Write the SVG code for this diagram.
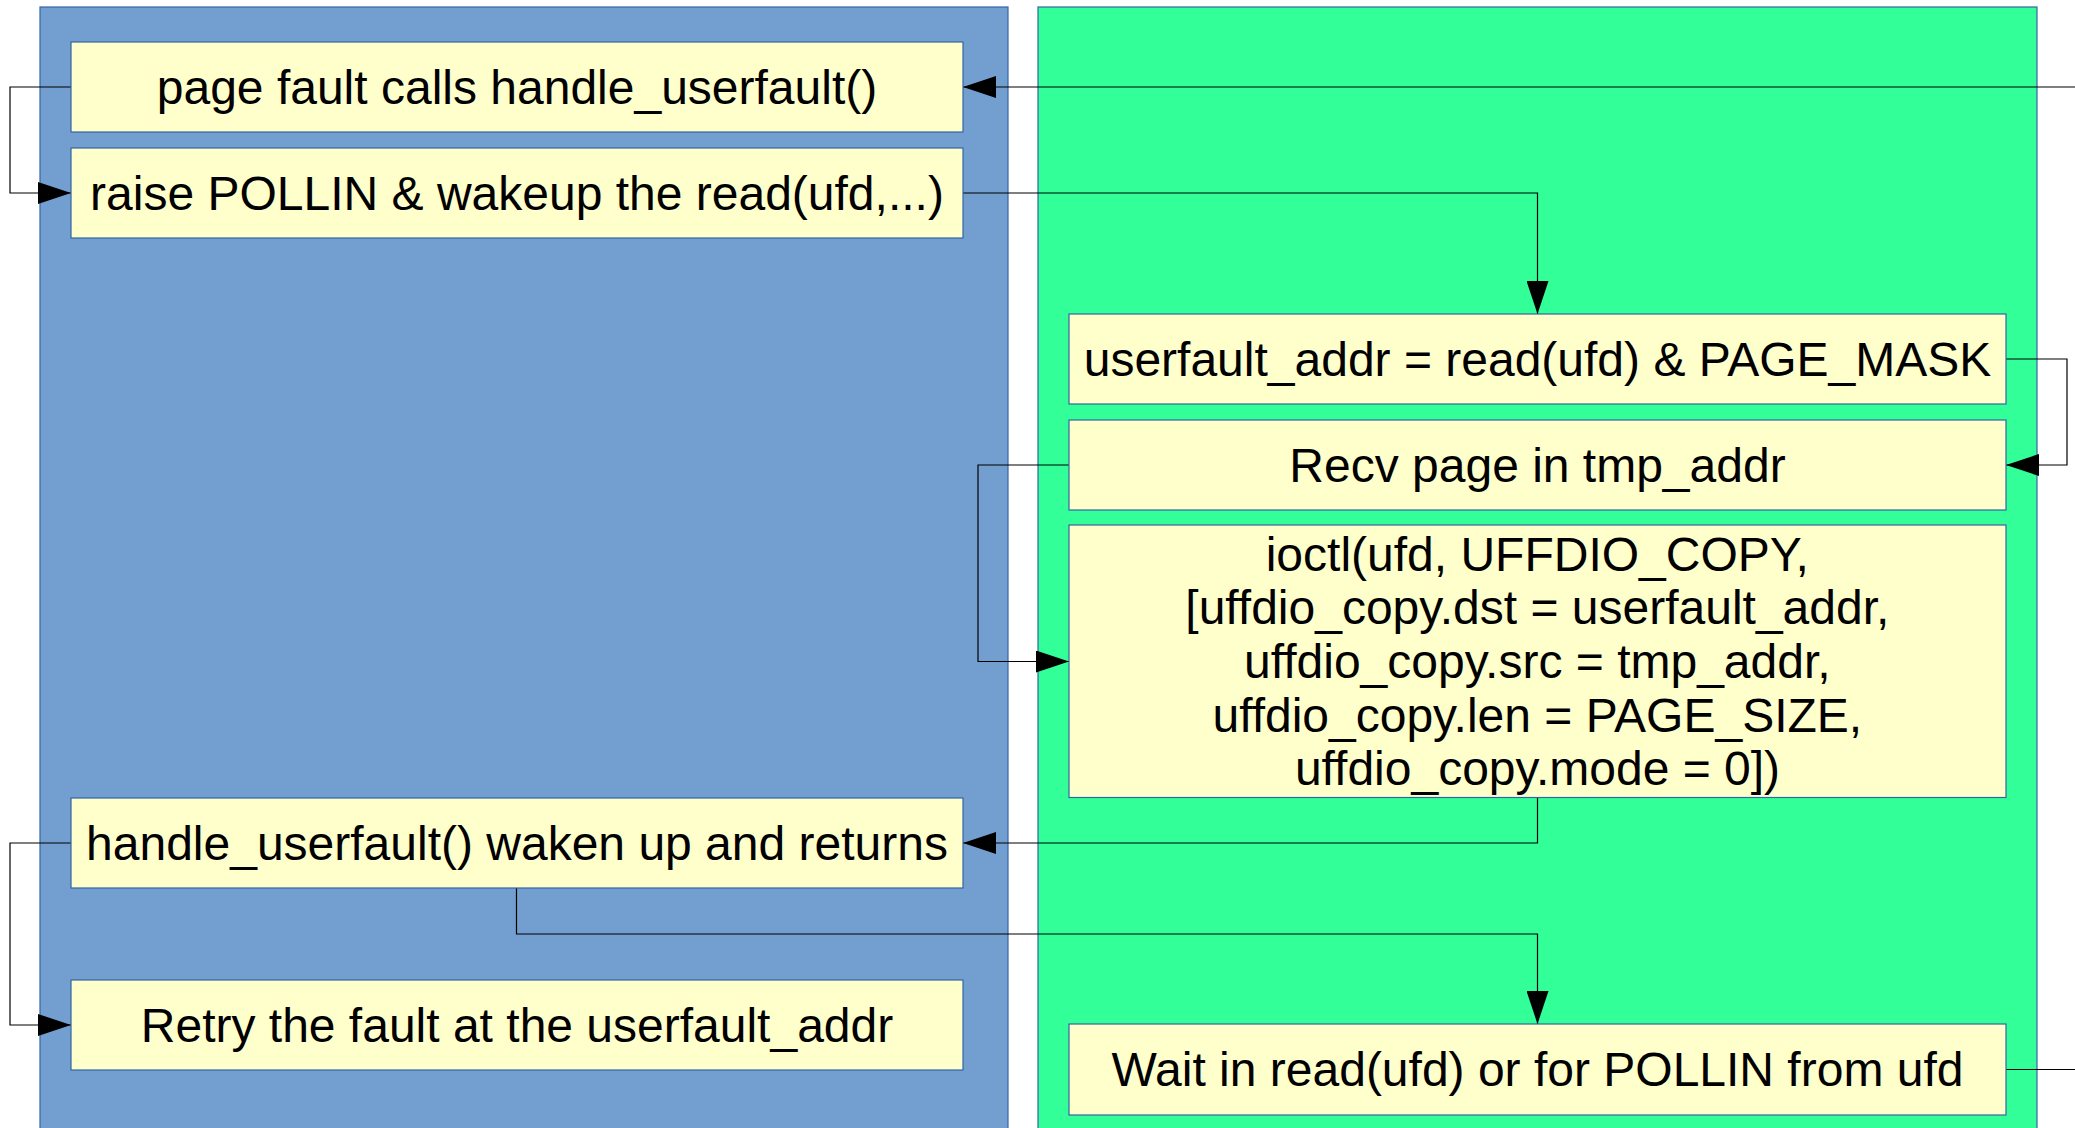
<svg xmlns="http://www.w3.org/2000/svg" width="2075" height="1128" viewBox="0 0 2075 1128">
  <defs>
    <style>
      .lane { stroke: #3465a4; stroke-width: 1.2; }
      .box { fill: #ffffcc; stroke: #3465a4; stroke-width: 1.2; }
      .lbl { font-family: "Liberation Sans", Arial, sans-serif; font-size: 48px; fill: #000; text-anchor: middle; }
      .wire { fill: none; stroke: #000; stroke-width: 1.2; }
      .wire.arrow { marker-end: url(#head); }
    </style>
    <marker id="head" markerUnits="userSpaceOnUse" markerWidth="33" markerHeight="22" refX="33" refY="11" orient="auto">
      <path d="M0,0 L33,11 L0,22 Z" fill="#000"/>
    </marker>
  </defs>

  <rect width="2075" height="1128" fill="#ffffff"/>

  <!-- swimlanes: kernel (left) and userland handler (right) -->
  <g id="lane-kernel">
    <rect class="lane" x="40" y="7" width="968" height="1135" fill="#729fcf"/>
  </g>
  <g id="lane-user">
    <rect class="lane" x="1038" y="7" width="999" height="1135" fill="#33ff99"/>
  </g>

  <!-- connectors -->
  <g id="connectors">
    <path class="wire arrow" d="M71,87 H10 V193 H71"/>
    <path class="wire arrow" d="M2076,87 H963"/>
    <path class="wire arrow" d="M963,193 H1537.5 V314"/>
    <path class="wire arrow" d="M2006,359 H2067 V465 H2006"/>
    <path class="wire arrow" d="M1069,465 H978 V661.5 H1069"/>
    <path class="wire arrow" d="M1537.5,797.5 V843 H963"/>
    <path class="wire arrow" d="M71,843 H10 V1025 H71"/>
    <path class="wire arrow" d="M516.5,888 V934 H1537.5 V1024"/>
    <path class="wire" d="M2006,1069.5 H2076"/>
  </g>

  <!-- kernel side -->
  <g id="n-page-fault">
    <rect class="box" x="71" y="42" width="892" height="90"/>
    <text class="lbl" x="517" y="103.6">page fault calls handle_userfault()</text>
  </g>
  <g id="n-raise-pollin">
    <rect class="box" x="71" y="148" width="892" height="90"/>
    <text class="lbl" x="517" y="209.6">raise POLLIN &amp; wakeup the read(ufd,...)</text>
  </g>
  <g id="n-wakeup">
    <rect class="box" x="71" y="798" width="892" height="90"/>
    <text class="lbl" x="517" y="859.6">handle_userfault() waken up and returns</text>
  </g>
  <g id="n-retry">
    <rect class="box" x="71" y="980" width="892" height="90"/>
    <text class="lbl" x="517" y="1041.6">Retry the fault at the userfault_addr</text>
  </g>

  <!-- userland side -->
  <g id="n-read-addr">
    <rect class="box" x="1069" y="314" width="937" height="90"/>
    <text class="lbl" x="1537.5" y="375.6">userfault_addr = read(ufd) &amp; PAGE_MASK</text>
  </g>
  <g id="n-recv-page">
    <rect class="box" x="1069" y="420" width="937" height="90"/>
    <text class="lbl" x="1537.5" y="481.6">Recv page in tmp_addr</text>
  </g>
  <g id="n-ioctl">
    <rect class="box" x="1069" y="525" width="937" height="272.5"/>
    <text class="lbl">
      <tspan x="1544" y="570.7">ioctl(ufd, UFFDIO_COPY,</tspan>
      <tspan x="1544" y="624.3">[uffdio_copy.dst = userfault_addr,</tspan>
      <tspan x="1544" y="677.9">uffdio_copy.src = tmp_addr,</tspan>
      <tspan x="1544" y="731.5">uffdio_copy.len = PAGE_SIZE,</tspan>
      <tspan x="1537.5" y="785.1">uffdio_copy.mode = 0])</tspan>
    </text>
  </g>
  <g id="n-wait">
    <rect class="box" x="1069" y="1024" width="937" height="91"/>
    <text class="lbl" x="1537.5" y="1086">Wait in read(ufd) or for POLLIN from ufd</text>
  </g>
</svg>
